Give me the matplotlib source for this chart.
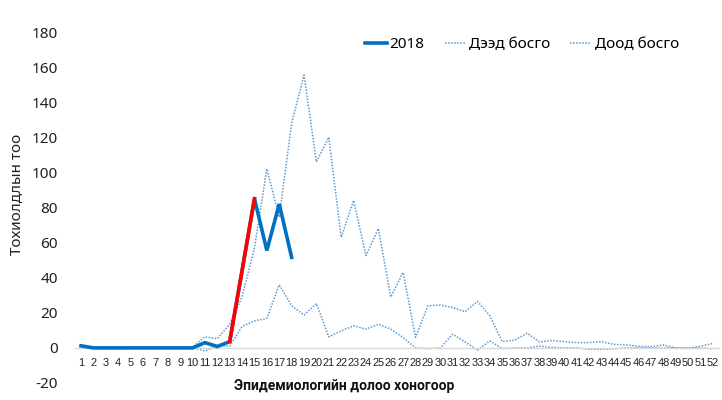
import matplotlib
matplotlib.use('Agg')
import matplotlib.pyplot as plt
import numpy as np

plt.rcParams['font.family'] = ['Noto Sans', 'DejaVu Sans']
plt.rcParams['axes.unicode_minus'] = False

# epidemiological weeks
weeks = list(range(1, 53))

# 2018 cases (weeks 1-18)
cases_2018 = [1.2, 0, 0, 0, 0, 0, 0, 0, 0, 0, 3, 0.8, 3.6, 44, 85, 55.5, 82, 51.6]

# upper threshold
upper = [0.5, 0, 0, 0, 0.5, 0.5, 0.5, 0.5, 0.5, 0.5, 6.3, 5.3, 13.5, 29, 57, 102, 74.5, 128,
         155.5, 106, 120, 63, 84, 52.6, 68, 29, 43, 6, 24, 24.4, 23, 20.6, 26.5, 18.3,
         3.6, 4.4, 8.4, 3.4, 4.2, 3.6, 3, 3, 3.6, 2, 1.7, 0.9, 0.7, 1.7, 0, -0.3, 1, 2.5]

# lower threshold
lower = [0, 0, 0, 0, 0, 0, 0, 0, 0, 0, -1.7, 1, 1.1, 12.2, 15.4, 16.8, 36, 24,
         18.7, 25.3, 6.3, 9.7, 12.6, 10.7, 13.5, 10.7, 5.9, 0, -0.4, 0, 7.8, 3.4, -1.3, 4,
         -0.4, 0, 0, 1, 0.3, 0, 0, -0.8, -0.8, -0.5, 0, 0, 0, 0, 0, 0, 0, -0.5]

# red part of the 2018 curve (week 13 -> 15)
red_from, red_to = 13, 15

blue = '#0070C0'
light = '#5B9BD5'

fig = plt.figure(figsize=(7.22, 4.0), dpi=100)
ax = fig.add_axes([74.8 / 722, 1 - 383 / 400, 644.3 / 722, (383 - 32) / 400])

ax.plot(weeks, upper, color=light, lw=1.1, ls=(0, (1, 1)), label='Дээд босго', zorder=2)
ax.plot(weeks, lower, color=light, lw=1.1, ls=(0, (1, 1)), label='Доод босго', zorder=2)
w18 = weeks[:len(cases_2018)]
ax.plot(w18, cases_2018, color=blue, lw=2.6, label='2018', zorder=3, solid_joinstyle='miter')
ax.plot(w18[red_from - 1:red_to], cases_2018[red_from - 1:red_to], color='#FF0000', lw=2.6, zorder=4)

ax.set_xlim(0.5, 52.5)
ax.set_ylim(-20, 180)
ax.set_yticks(np.arange(-20, 181, 20))
ax.set_xticks(weeks)
ax.set_xticklabels([str(w) for w in weeks])
ax.tick_params(axis='y', length=0, pad=12, labelsize=11, labelcolor='#222222')
ax.tick_params(axis='x', length=0, pad=7, labelsize=7.9, labelcolor='#222222',
               labelfontfamily='Liberation Sans')

for s in ['top', 'right', 'left']:
    ax.spines[s].set_visible(False)
ax.spines['bottom'].set_position(('data', 0))
ax.spines['bottom'].set_color('#D9D9D9')
ax.spines['bottom'].set_linewidth(1)

ax.set_ylabel('Тохиолдлын тоо', fontsize=11, color='#222222')
ax.yaxis.set_label_coords(-0.078, 0.536)
fig.text(344 / 722, 1 - 386 / 400, 'Эпидемиологийн долоо хоногоор', fontsize=10,
         family=['Roboto', 'DejaVu Sans'], fontweight='bold', ha='center', va='center',
         color='#111111')

handles, labels = ax.get_legend_handles_labels()
order = [2, 0, 1]
ax.legend([handles[i] for i in order], [labels[i] for i in order], ncol=3, frameon=False,
          fontsize=11, loc='center', bbox_to_anchor=(522 / 722, 1 - 45 / 400),
          bbox_transform=fig.transFigure, handlelength=1.4, columnspacing=1.3, handletextpad=0.2)

fig.savefig('out.png', dpi=100)
